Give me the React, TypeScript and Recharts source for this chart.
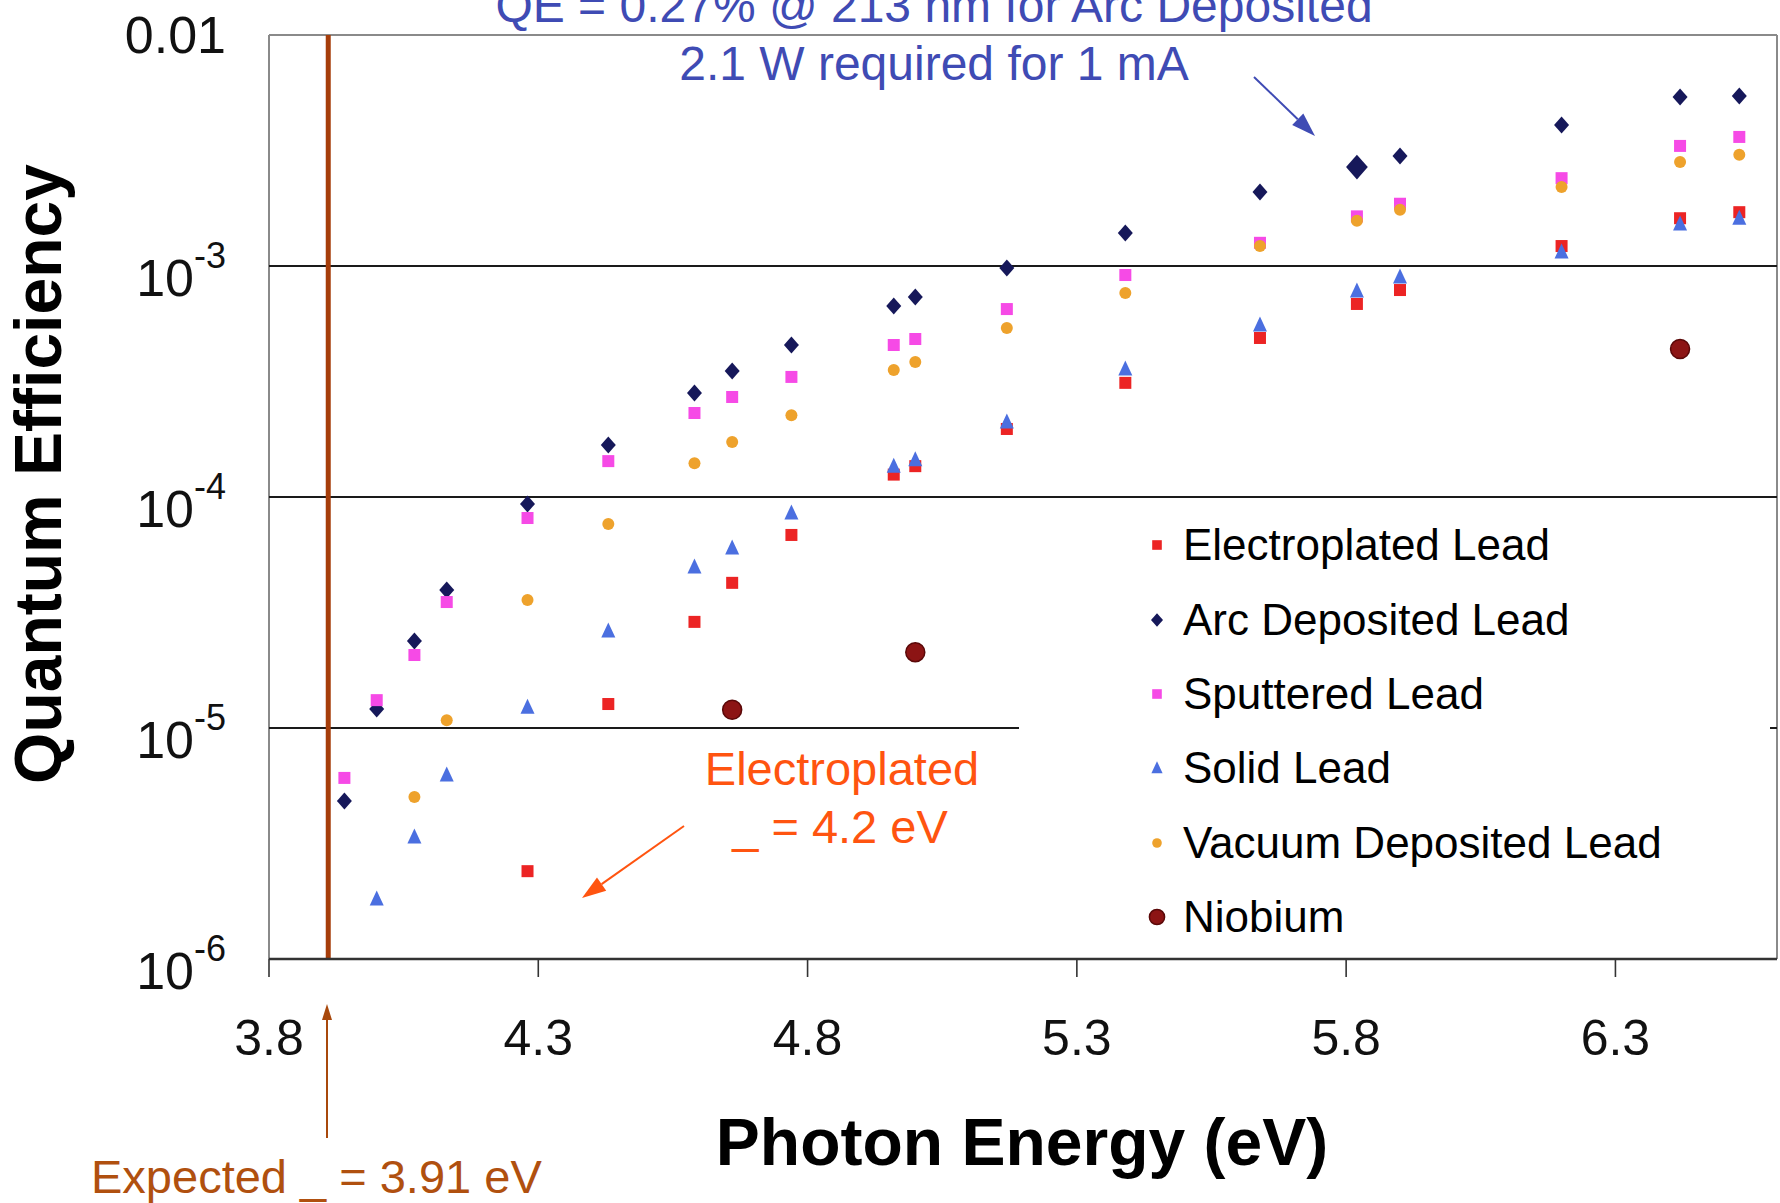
import React from "react"
import {
  ScatterChart,
  Scatter,
  XAxis,
  YAxis,
  ReferenceLine,
  Legend,
} from "recharts"

const FONT = '"Liberation Sans", Arial, Helvetica, sans-serif'

const xTicks = [3.8, 4.3, 4.8, 5.3, 5.8, 6.3]
const yTicks = [1e-6, 1e-5, 1e-4, 1e-3, 1e-2]
const gridLevels = [1e-5, 1e-4, 1e-3]
const expectedWorkFunction = 3.91
const highlightEnergy = 5.82

// photon energies (eV) where points were taken
const arcEnergy = [3.94, 4.0, 4.07, 4.13, 4.28, 4.43, 4.59, 4.66, 4.77, 4.96, 5.0, 5.17, 5.39, 5.64, 5.82, 5.9, 6.2, 6.42, 6.53]
const sputteredEnergy = arcEnergy
const solidEnergy = [4.0, 4.07, 4.13, 4.28, 4.43, 4.59, 4.66, 4.77, 4.96, 5.0, 5.17, 5.39, 5.64, 5.82, 5.9, 6.2, 6.42, 6.53]
const vacuumEnergy = [4.07, 4.13, 4.28, 4.43, 4.59, 4.66, 4.77, 4.96, 5.0, 5.17, 5.39, 5.64, 5.82, 5.9, 6.2, 6.42, 6.53]
const electroplatedEnergy = [4.28, 4.43, 4.59, 4.66, 4.77, 4.96, 5.0, 5.17, 5.39, 5.64, 5.82, 5.9, 6.2, 6.42, 6.53]
const niobiumEnergy = [4.66, 5.0, 6.42]

// quantum efficiency
const electroplatedQE = [2.4e-6, 1.27e-5, 2.88e-5, 4.25e-5, 6.85e-5, 1.25e-4, 1.36e-4, 1.97e-4, 3.12e-4, 4.88e-4, 6.85e-4, 7.87e-4, 1.22e-3, 1.61e-3, 1.71e-3]
const arcQE = [4.83e-6, 1.21e-5, 2.38e-5, 3.96e-5, 9.33e-5, 1.68e-4, 2.82e-4, 3.51e-4, 4.55e-4, 6.71e-4, 7.34e-4, 9.8e-4, 1.39e-3, 2.09e-3, 2.68e-3, 2.99e-3, 4.08e-3, 5.39e-3, 5.44e-3]
const sputteredQE = [6.08e-6, 1.32e-5, 2.07e-5, 3.51e-5, 8.11e-5, 1.43e-4, 2.31e-4, 2.71e-4, 3.31e-4, 4.55e-4, 4.83e-4, 6.51e-4, 9.14e-4, 1.26e-3, 1.64e-3, 1.86e-3, 2.4e-3, 3.31e-3, 3.62e-3]
const solidQE = [1.82e-6, 3.37e-6, 6.26e-6, 1.23e-5, 2.63e-5, 4.98e-5, 6.01e-5, 8.53e-5, 1.36e-4, 1.45e-4, 2.11e-4, 3.58e-4, 5.56e-4, 7.79e-4, 8.96e-4, 1.15e-3, 1.52e-3, 1.61e-3]
const vacuumQE = [5.03e-6, 1.08e-5, 3.58e-5, 7.64e-5, 1.4e-4, 1.73e-4, 2.26e-4, 3.55e-4, 3.84e-4, 5.39e-4, 7.64e-4, 1.22e-3, 1.57e-3, 1.75e-3, 2.2e-3, 2.82e-3, 3.03e-3]
const niobiumQE = [1.2e-5, 2.13e-5, 4.37e-4]

const toPoints = (es: number[], qs: number[]) =>
  es.map((e, i) => ({ e, qe: qs[i] }))

type MarkerKind = "square" | "diamond" | "triangle" | "dot" | "circle"

const series: {
  name: string
  color: string
  marker: MarkerKind
  data: { e: number; qe: number }[]
  highlight?: number
}[] = [
  { name: "Electroplated Lead", color: "#ec2424", marker: "square", data: toPoints(electroplatedEnergy, electroplatedQE) },
  { name: "Arc Deposited Lead", color: "#16185a", marker: "diamond", data: toPoints(arcEnergy, arcQE), highlight: highlightEnergy },
  { name: "Sputtered Lead", color: "#f64ae6", marker: "square", data: toPoints(sputteredEnergy, sputteredQE) },
  { name: "Solid Lead", color: "#4b6fe0", marker: "triangle", data: toPoints(solidEnergy, solidQE) },
  { name: "Vacuum Deposited Lead", color: "#eea22c", marker: "dot", data: toPoints(vacuumEnergy, vacuumQE) },
  { name: "Niobium", color: "#8c1414", marker: "circle", data: toPoints(niobiumEnergy, niobiumQE) },
]

function Marker({ kind, cx, cy, color, s = 1 }: { kind: MarkerKind; cx: number; cy: number; color: string; s?: number }) {
  switch (kind) {
    case "square":
      return <rect x={cx - 6 * s} y={cy - 6 * s} width={12 * s} height={12 * s} fill={color} />
    case "diamond":
      return (
        <polygon
          points={`${cx},${cy - 8.5 * s} ${cx + 7.5 * s},${cy} ${cx},${cy + 8.5 * s} ${cx - 7.5 * s},${cy}`}
          fill={color}
        />
      )
    case "triangle":
      return (
        <polygon
          points={`${cx},${cy - 8.5 * s} ${cx + 7 * s},${cy + 6.5 * s} ${cx - 7 * s},${cy + 6.5 * s}`}
          fill={color}
        />
      )
    case "dot":
      return <circle cx={cx} cy={cy} r={6 * s} fill={color} />
    default:
      return <circle cx={cx} cy={cy} r={9.5 * s} fill={color} stroke="#5a0808" strokeWidth={1.5} />
  }
}

const XTick = (props: any) => {
  const { x, y, payload } = props
  return (
    <text x={x} y={y + 78} textAnchor="middle" fontFamily={FONT} fontSize={50} fill="#111">
      {payload.value}
    </text>
  )
}

const YTick = (props: any) => {
  const { x, y, payload } = props
  const exp = Math.round(Math.log10(payload.value))
  if (exp === -2) {
    return (
      <text x={x - 43} y={y + 18} textAnchor="end" fontFamily={FONT} fontSize={52} fill="#111">
        0.01
      </text>
    )
  }
  return (
    <text x={x - 43} y={y + 30} textAnchor="end" fontFamily={FONT} fontSize={52} fill="#111">
      <tspan>10</tspan>
      <tspan dy={-28} fontSize={36}>{`-${Math.abs(exp)}`}</tspan>
    </text>
  )
}

// keep the legend in series order (recharts sorts it by name otherwise)
const renderLegend = (props: any) => {
  const payload = props.payload || []
  const shown = new Set(payload.map((p: any) => p.value))
  const items = series.filter((s) => shown.size === 0 || shown.has(s.name))
  return (
    <div style={{ background: "#fff", width: "100%", height: "100%" }}>
      {items.map((s) => (
        <div key={s.name} style={{ display: "flex", alignItems: "center", height: 74.4 }}>
          <svg width={30} height={30} style={{ marginLeft: 123, flex: "none" }}>
            <Marker kind={s.marker} cx={15} cy={15} color={s.color} s={0.8} />
          </svg>
          <span style={{ fontFamily: FONT, fontSize: 44, color: "#000", marginLeft: 11, whiteSpace: "nowrap" }}>
            {s.name}
          </span>
        </div>
      ))}
    </div>
  )
}

function Arrow({ x1, y1, x2, y2, color, w, head, headW }: any) {
  const a = Math.atan2(y2 - y1, x2 - x1)
  const bx = x2 - head * Math.cos(a)
  const by = y2 - head * Math.sin(a)
  const px = (-Math.sin(a) * headW) / 2
  const py = (Math.cos(a) * headW) / 2
  return (
    <g>
      <line x1={x1} y1={y1} x2={bx} y2={by} stroke={color} strokeWidth={w} />
      <polygon points={`${x2},${y2} ${bx + px},${by + py} ${bx - px},${by - py}`} fill={color} />
    </g>
  )
}

export default function App() {
  return (
    <div style={{ position: "absolute", left: 0, top: 0, width: 1780, height: 1203, background: "#fff" }}>
      <ScatterChart width={1780} height={1203} margin={{ top: 35, right: 3, bottom: 0, left: 0 }}>
        <XAxis
          type="number"
          dataKey="e"
          domain={[3.8, 6.6]}
          ticks={xTicks}
          interval={0}
          allowDataOverflow
          height={244}
          tickSize={18}
          tickMargin={0}
          tick={(p: any) => <XTick {...p} />}
          axisLine={{ stroke: "#333", strokeWidth: 2.5 }}
          tickLine={{ stroke: "#333", strokeWidth: 1.6 }}
        />
        <YAxis
          type="number"
          dataKey="qe"
          scale="log"
          domain={[1e-6, 1e-2]}
          ticks={yTicks}
          interval={0}
          allowDataOverflow
          width={269}
          tickSize={0}
          tickMargin={0}
          axisLine={false}
          tickLine={false}
          tick={(p: any) => <YTick {...p} />}
        />
        <ReferenceLine y={1e-2} stroke="#8a8a8a" strokeWidth={2} />
        <ReferenceLine x={3.8} stroke="#8a8a8a" strokeWidth={2} />
        <ReferenceLine x={6.6} stroke="#8a8a8a" strokeWidth={2} />
        {gridLevels.map((g) => (
          <ReferenceLine key={g} y={g} stroke="#1a1a1a" strokeWidth={2} />
        ))}
        <ReferenceLine x={expectedWorkFunction} stroke="#a63d0a" strokeWidth={5} />
        {series.map((s) => (
          <Scatter
            key={s.name}
            name={s.name}
            data={s.data}
            fill={s.color}
            isAnimationActive={false}
            shape={(p: any) => (
              <Marker
                kind={s.marker}
                cx={p.cx}
                cy={p.cy}
                color={s.color}
                s={s.highlight !== undefined && p.payload && p.payload.e === s.highlight ? 1.45 : 1}
              />
            )}
          />
        ))}
        <Legend
          layout="vertical"
          align="center"
          verticalAlign="middle"
          content={renderLegend}
          wrapperStyle={{ left: 1019, top: 508, width: 751, height: 446 }}
        />
      </ScatterChart>

      <svg
        width={1780}
        height={1203}
        style={{ position: "absolute", left: 0, top: 0, pointerEvents: "none" }}
        fontFamily={FONT}
      >
        <text x={934} y={22} textAnchor="middle" fontSize={48} fill="#3f4bb4">
          QE = 0.27% @ 213 nm for Arc Deposited
        </text>
        <text x={934} y={80} textAnchor="middle" fontSize={48} fill="#3f4bb4">
          2.1 W required for 1 mA
        </text>
        <Arrow x1={1254} y1={77} x2={1315} y2={136} color="#3f4bb4" w={2} head={24} headW={16} />

        <text x={842} y={785} textAnchor="middle" fontSize={47} fill="#ff5410">
          Electroplated
        </text>
        <text x={840} y={843} textAnchor="middle" fontSize={47} fill="#ff5410">
          _ = 4.2 eV
        </text>
        <Arrow x1={684} y1={826} x2={582} y2={898} color="#ff5410" w={2} head={24} headW={16} />

        <Arrow x1={327} y1={1138} x2={327} y2={1004} color="#a8480c" w={2} head={16} headW={10} />
        <text x={91} y={1193} fontSize={47} fill="#b0500f">
          Expected _ = 3.91 eV
        </text>

        <text
          x={61}
          y={474}
          textAnchor="middle"
          fontSize={66}
          fontWeight="bold"
          fill="#000"
          transform="rotate(-90, 61, 474)"
        >
          Quantum Efficiency
        </text>
        <text x={1022} y={1165} textAnchor="middle" fontSize={66} fontWeight="bold" fill="#000">
          Photon Energy (eV)
        </text>
      </svg>
    </div>
  )
}
